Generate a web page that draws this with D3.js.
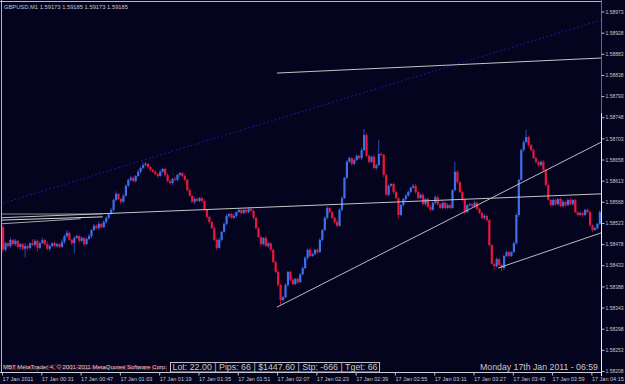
<!DOCTYPE html>
<html>
<head>
<meta charset="utf-8">
<script src="https://cdn.jsdelivr.net/npm/d3@7"></script>
<style>
body { margin: 0; background: #05041e; }
svg { display: block; }
</style>
</head>
<body>
<script>
// GBPUSD M1, 17 Jan 2011, one bar per minute from 00:15
const firstOpen = 1.58514
const closes = [
  1.58466,1.58480,1.58474,1.58487,1.58478,1.58485,1.58472,1.58478,1.58468,1.58474,
  1.58470,1.58480,1.58476,1.58485,1.58470,1.58480,1.58487,1.58478,1.58468,1.58474,
  1.58480,1.58474,1.58478,1.58472,1.58483,1.58495,1.58502,1.58487,1.58480,1.58491,
  1.58495,1.58485,1.58491,1.58478,1.58489,1.58495,1.58508,1.58517,1.58512,1.58521,
  1.58514,1.58525,1.58534,1.58542,1.58551,1.58572,1.58585,1.58574,1.58568,1.58581,
  1.58602,1.58615,1.58619,1.58612,1.58623,1.58632,1.58640,1.58646,1.58649,1.58642,
  1.58636,1.58632,1.58627,1.58623,1.58632,1.58638,1.58625,1.58612,1.58608,1.58617,
  1.58615,1.58625,1.58629,1.58623,1.58615,1.58593,1.58581,1.58568,1.58574,1.58570,
  1.58576,1.58570,1.58551,1.58536,1.58525,1.58512,1.58487,1.58470,1.58487,1.58504,
  1.58521,1.58538,1.58542,1.58534,1.58538,1.58546,1.58551,1.58544,1.58551,1.58546,
  1.58553,1.58549,1.58534,1.58512,1.58493,1.58478,1.58491,1.58474,1.58480,1.58466,
  1.58440,1.58419,1.58391,1.58359,1.58365,1.58391,1.58419,1.58402,1.58393,1.58404,
  1.58397,1.58414,1.58427,1.58449,1.58466,1.58453,1.58457,1.58466,1.58461,1.58487,
  1.58508,1.58534,1.58555,1.58546,1.58534,1.58525,1.58517,1.58551,1.58576,1.58619,
  1.58653,1.58661,1.58649,1.58657,1.58666,1.58661,1.58678,1.58710,1.58666,1.58653,
  1.58664,1.58640,1.58646,1.58670,1.58668,1.58625,1.58583,1.58602,1.58606,1.58589,
  1.58576,1.58540,1.58561,1.58574,1.58581,1.58589,1.58598,1.58602,1.58589,1.58576,
  1.58583,1.58563,1.58574,1.58557,1.58551,1.58566,1.58578,1.58563,1.58555,1.58566,
  1.58555,1.58561,1.58555,1.58593,1.58632,1.58610,1.58589,1.58572,1.58546,1.58561,
  1.58563,1.58559,1.58566,1.58553,1.58544,1.58534,1.58538,1.58529,1.58476,1.58436,
  1.58431,1.58446,1.58434,1.58427,1.58453,1.58461,1.58453,1.58461,1.58480,1.58540,
  1.58615,1.58678,1.58695,1.58706,1.58689,1.58678,1.58661,1.58653,1.58646,1.58653,
  1.58636,1.58604,1.58572,1.58561,1.58572,1.58563,1.58574,1.58559,1.58568,1.58561,
  1.58572,1.58563,1.58572,1.58546,1.58540,1.58544,1.58540,1.58551,1.58546,1.58518,
  1.58508,1.58512,1.58521,1.58546
]
// wick lengths beyond the body, in points (0.00001)
const wickHi = [
  4,3,2,5,2,4,2,3,2,6, 3,2,8,4,2,3,5,2,6,3, 2,4,3,2,5,4,6,3,2,4, 3,2,4,2,3,5,2,4,3,5,
  2,4,3,2,4,3,5,2,3,4, 3,2,4,3,2,5,3,6,4,2, 3,2,4,2,5,3,2,4,3,2, 4,3,2,3,4,2,3,2,4,3,
  2,3,4,2,3,2,4,3,5,2, 3,4,2,3,5,2,4,3,2,3, 4,2,3,2,4,3,2,5,3,2, 3,2,4,2,3,4,2,3,5,2,
  3,2,4,3,2,4,3,2,3,4, 2,3,4,2,3,2,5,3,4,2, 4,3,2,4,3,2,5,13,4,3, 2,4,3,30,3,2,4,3,2,3,
  4,2,3,2,4,3,2,5,3,2, 3,4,2,3,5,2,4,3,2,3, 2,4,3,2,21,3,2,4,3,2, 3,2,4,3,2,3,4,2,3,2,
  3,4,2,3,2,4,3,2,3,4, 2,3,4,15,3,2,4,3,2,3, 4,2,3,2,4,3,2,3,4,2, 3,4,2,3,2,4,3,2,3,4,
  2,3,2,4
]
const wickLo = [
  6,4,3,5,2,4,3,6,4,18, 5,3,2,4,8,3,2,4,3,5, 3,2,4,3,2,5,3,2,4,22, 2,4,3,5,2,3,4,2,3,4,
  3,2,4,3,2,3,4,2,5,3, 2,3,4,2,3,2,4,3,2,3, 4,2,3,5,2,3,4,2,3,4, 2,3,4,2,3,4,2,3,5,2,
  3,4,2,3,4,2,3,5,2,3, 2,3,4,2,3,4,2,3,2,4, 3,2,4,3,2,5,3,2,4,3, 2,3,4,11,3,2,4,3,2,3,
  4,2,3,2,4,3,2,3,4,2, 3,2,4,3,2,4,3,2,3,2, 3,2,4,3,2,3,4,2,3,4, 2,3,4,2,3,4,2,3,2,4,
  3,8,2,3,4,2,3,2,4,3, 2,3,4,2,3,2,4,3,2,3, 4,2,3,2,3,4,2,3,5,2, 3,2,4,3,2,3,4,2,3,2,
  8,3,2,6,3,2,4,3,2,3, 4,2,3,2,4,3,2,3,4,2, 3,4,2,3,2,4,3,2,3,4, 2,3,4,2,3,2,4,3,2,3,
  4,2,3,2
]

const priceTicks = [1.58973,1.58928,1.58883,1.58838,1.58793,1.58748,1.58703,1.58658,1.58613,
  1.58568,1.58523,1.58478,1.58433,1.58388,1.58343,1.58298,1.58253,1.58208]
const timeTicks = ["00:15","00:31","00:47","01:03","01:19","01:35","01:51","02:07",
  "02:23","02:39","02:55","03:11","03:27","03:43","03:59","04:15"]
const timeLabels = ["17 Jan 2011","17 Jan 00:31","17 Jan 00:47","17 Jan 01:03","17 Jan 01:19",
  "17 Jan 01:35","17 Jan 01:51","17 Jan 02:07","17 Jan 02:23","17 Jan 02:39","17 Jan 02:55",
  "17 Jan 03:11","17 Jan 03:27","17 Jan 03:43","17 Jan 03:59","17 Jan 04:15"]

// trend lines: [time1, price1, time2, price2]
const channelLine = ["00:14", 1.58563, "04:19", 1.58955]
const topLine = ["02:07", 1.58842, "04:19", 1.58874]
const flatLine = ["00:14", 1.58534, "04:19", 1.58585]
const riseLine = ["02:07", 1.58344, "04:19", 1.58695]
const lowLine = ["03:37", 1.58427, "04:19", 1.58502]
const fanLines = [
  ["00:14", 1.58542, "00:56", 1.58542],
  ["00:14", 1.58529, "00:56", 1.58536],
  ["00:14", 1.58521, "00:47", 1.58532]
]

const w = 625, h = 384
const plotL = 1.5, plotR = 601.5, plotT = 1.5, plotB = 372.5

const hm = s => new Date(2011, 0, 17, +s.slice(0, 2), +s.slice(3))
const start = hm("00:15")

const x = d3.scaleTime().domain([hm("00:15"), hm("04:15")]).range([2, 591.4])
const y = d3.scaleLinear().domain([1.58208, 1.58973]).range([371, 11.5])

let svg = d3.select("body").append("svg")
    .attr("width", w)
    .attr("height", h)
    .style("font-family", "'Liberation Sans', Arial, sans-serif")

svg.append("rect").attr("width", w).attr("height", h).attr("fill", "#05041e")

svg.append("clipPath").attr("id", "plot")
    .append("rect")
    .attr("x", plotL + 0.5).attr("y", plotT + 0.5)
    .attr("width", plotR - plotL - 1).attr("height", plotB - plotT - 1)

let plot = svg.append("g").attr("clip-path", "url(#plot)")

// candles
let bars = closes.map(function(c, i) {
    let o = i == 0 ? firstOpen : closes[i - 1]
    return {
        t: new Date(+start + i * 60000),
        o: o, c: c,
        hi: Math.max(o, c) + wickHi[i] / 100000,
        lo: Math.min(o, c) - wickLo[i] / 100000
    }
})

const upColor = "#3f6fe8", downColor = "#e8173e"

plot.selectAll("line.wick")
    .data(bars)
    .enter()
    .append("line")
    .attr("class", "wick")
    .attr("x1", d => x(d.t) + 1)
    .attr("x2", d => x(d.t) + 1)
    .attr("y1", d => y(d.hi))
    .attr("y2", d => y(d.lo))
    .attr("stroke", d => d.c >= d.o ? "#2b4fb0" : "#a0142e")
    .attr("stroke-width", 1)

plot.selectAll("rect.body")
    .data(bars)
    .enter()
    .append("rect")
    .attr("class", "body")
    .attr("x", d => x(d.t))
    .attr("width", 2.2)
    .attr("y", d => y(Math.max(d.o, d.c)))
    .attr("height", d => Math.max(1, Math.abs(y(d.o) - y(d.c))))
    .attr("fill", d => d.c >= d.o ? upColor : downColor)

// trend lines
function drawLine(l, color, dash) {
    plot.append("line")
        .attr("x1", x(hm(l[0]))).attr("y1", y(l[1]))
        .attr("x2", x(hm(l[2]))).attr("y2", y(l[3]))
        .attr("stroke", color)
        .attr("stroke-width", 1)
        .attr("stroke-dasharray", dash)
}
drawLine(channelLine, "#1c1cc8", "1.5,2.5")
drawLine(topLine, "#c4c4c4", null)
drawLine(fanLines[0], "#8c8c8c", null)
drawLine(fanLines[1], "#d8d8d8", null)
drawLine(fanLines[2], "#a8a8a8", null)
drawLine(flatLine, "#c4c4c4", null)
drawLine(riseLine, "#bcbcbc", null)
drawLine(lowLine, "#bcbcbc", null)

// frame
svg.append("line").attr("x1", 0).attr("x2", plotR).attr("y1", plotT).attr("y2", plotT)
    .attr("stroke", "#b8b8b8")
svg.append("line").attr("x1", plotL).attr("x2", plotL).attr("y1", 0).attr("y2", plotB)
    .attr("stroke", "#b8b8b8")
svg.append("line").attr("x1", plotR).attr("x2", plotR).attr("y1", 0).attr("y2", 113)
    .attr("stroke", "#6a6a6a")
svg.append("line").attr("x1", plotR).attr("x2", plotR).attr("y1", 113).attr("y2", 376)
    .attr("stroke", "#f0f0f0")
svg.append("line").attr("x1", 0).attr("x2", plotR).attr("y1", plotB).attr("y2", plotB)
    .attr("stroke", "#d0d0d0")

// price axis
let yAxis = svg.append("g")
    .attr("transform", "translate(" + plotR + ",0)")
    .call(d3.axisRight(y)
        .tickValues(priceTicks)
        .tickFormat(d3.format(".5f"))
        .tickSize(3)
        .tickSizeOuter(0)
        .tickPadding(1))
yAxis.select(".domain").remove()
yAxis.selectAll("line").attr("stroke", "#c0c0c0")
yAxis.selectAll("text").attr("fill", "#c8c8c8").attr("font-size", "5.2px")
    .attr("textLength", 18).attr("lengthAdjust", "spacingAndGlyphs")
    .attr("font-family", "'Liberation Sans', Arial, sans-serif")

// time axis
let xAxis = svg.append("g")
    .attr("transform", "translate(0," + plotB + ")")
    .call(d3.axisBottom(x)
        .tickValues(timeTicks.map(hm))
        .tickFormat((d, i) => timeLabels[i])
        .tickSize(3)
        .tickSizeOuter(0)
        .tickPadding(1.5))
xAxis.select(".domain").remove()
xAxis.selectAll("line").attr("stroke", "#c0c0c0")
xAxis.selectAll("text").attr("fill", "#c8c8c8").attr("font-size", "5.6px")
    .attr("text-anchor", "start")
    .attr("textLength", (d, i) => i == 0 ? 31 : 32).attr("lengthAdjust", "spacingAndGlyphs")
    .attr("font-family", "'Liberation Sans', Arial, sans-serif")

// texts
svg.append("text").attr("x", 4).attr("y", 8.5)
    .attr("fill", "#c8c8c8").attr("font-size", "6.2px")
    .attr("textLength", 124).attr("lengthAdjust", "spacingAndGlyphs")
    .text("GBPUSD,M1  1.59173 1.59185 1.59173 1.59185")

svg.append("text").attr("x", 3).attr("y", 369.5)
    .attr("fill", "#c8102a").attr("font-size", "6.5px")
    .attr("textLength", 164).attr("lengthAdjust", "spacingAndGlyphs")
    .text("Trade Group v.2 © 2001-2011 www.ForexEntrance.com |")
svg.append("text").attr("x", 3).attr("y", 369)
    .attr("fill", "#d0d0d0").attr("font-size", "6px")
    .attr("textLength", 164).attr("lengthAdjust", "spacingAndGlyphs")
    .text("MBT MetaTrader 4, © 2001-2011 MetaQuotes Software Corp.")

svg.append("rect").attr("x", 170.5).attr("y", 362.5).attr("width", 209).attr("height", 9.5)
    .attr("fill", "none").attr("stroke", "#c0c0c0")
svg.append("text").attr("x", 172.5).attr("y", 370.3)
    .attr("fill", "#c8c8c8").attr("font-size", "8.5px")
    .attr("textLength", 205).attr("lengthAdjust", "spacingAndGlyphs")
    .text("Lot: 22.00 | Pips: 66 | $1447.60 | Stp: -666 | Tget: 66")

svg.append("text").attr("x", 480).attr("y", 370.3)
    .attr("fill", "#c8c8c8").attr("font-size", "8.5px")
    .attr("textLength", 118).attr("lengthAdjust", "spacingAndGlyphs")
    .text("Monday 17th Jan 2011 - 06:59")
</script>
</body>
</html>
